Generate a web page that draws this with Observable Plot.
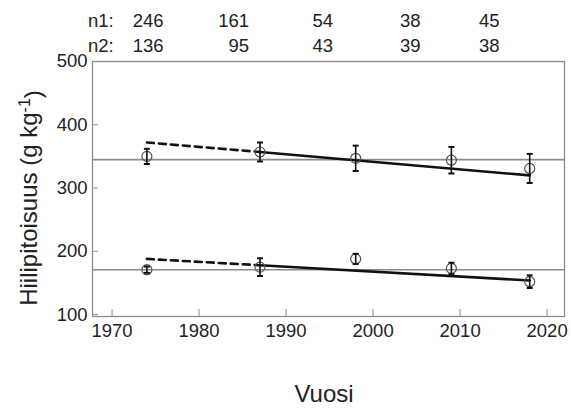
<!DOCTYPE html>
<html>
<head>
<meta charset="utf-8">
<script src="https://cdn.jsdelivr.net/npm/d3@7"></script>
<script src="https://cdn.jsdelivr.net/npm/@observablehq/plot@0.6"></script>
<style>
  html, body { margin: 0; padding: 0; background: #fff; }
  #wrap { position: relative; width: 571px; height: 412px; font-family: "Liberation Sans", Arial, sans-serif; color: #222; }
  .nrow { position: absolute; left: 0; font-size: 18.5px; line-height: 1; }
  .nrow span { position: absolute; text-align: right; white-space: nowrap; }
</style>
</head>
<body>
<div id="wrap"></div>
<script>
// ---- data ----
const years = [1974, 1987, 1998, 2009, 2018];
const upperMean = [350, 357, 347, 344, 331];
const upperErr = [12, 15, 20, 21, 23];
const lowerMean = [171, 175, 188, 173, 152];
const lowerErr = [5, 14, 8, 9, 10];
const upperLevel = 345;
const lowerLevel = 171;
const trendYears = [1974, 1987, 2018];
const upperTrend = [372, 357, 320];
const lowerTrend = [188, 178, 154];
const n1 = [246, 161, 54, 38, 45];
const n2 = [136, 95, 43, 39, 38];
const xTicks = [1970, 1980, 1990, 2000, 2010, 2020];
const yTicks = [100, 200, 300, 400, 500];

const points = [
  ...years.map((y, i) => ({year: y, mean: upperMean[i], lo: upperMean[i] - upperErr[i], hi: upperMean[i] + upperErr[i]})),
  ...years.map((y, i) => ({year: y, mean: lowerMean[i], lo: lowerMean[i] - lowerErr[i], hi: lowerMean[i] + lowerErr[i]}))
];
const trendRows = (vals) => trendYears.map((y, i) => ({year: y, v: vals[i]}));
const upperT = trendRows(upperTrend), lowerT = trendRows(lowerTrend);

const cap = { draw(ctx, size) { const w = Math.sqrt(size); ctx.moveTo(-w / 2, 0); ctx.lineTo(w / 2, 0); } };

const chart = Plot.plot({
  width: 571,
  height: 412,
  marginTop: 61,
  marginBottom: 96,
  marginLeft: 92,
  marginRight: 7,
  style: { fontFamily: "Liberation Sans, Arial, sans-serif", fontSize: "18.5px", color: "#222", background: "#fff", overflow: "visible" },
  x: { domain: [1967.75, 2022], ticks: xTicks, tickFormat: d => String(d) },
  y: { domain: [97, 500], ticks: yTicks },
  marks: [
    Plot.ruleY([upperLevel, lowerLevel], { stroke: "#8c8c8c", strokeWidth: 1.6 }),
    Plot.line(upperT.slice(0, 2), { x: "year", y: "v", stroke: "#111", strokeWidth: 2.6, strokeDasharray: "7,5" }),
    Plot.line(lowerT.slice(0, 2), { x: "year", y: "v", stroke: "#111", strokeWidth: 2.6, strokeDasharray: "7,5" }),
    Plot.line(upperT.slice(1), { x: "year", y: "v", stroke: "#111", strokeWidth: 2.6 }),
    Plot.line(lowerT.slice(1), { x: "year", y: "v", stroke: "#111", strokeWidth: 2.6 }),
    Plot.dot(points, { x: "year", y: "mean", r: 5, stroke: "#555", strokeWidth: 1.2, fill: "none" }),
    Plot.ruleX(points, { x: "year", y1: "lo", y2: "hi", stroke: "#111", strokeWidth: 1.6 }),
    Plot.dot(points, { x: "year", y: "lo", symbol: cap, r: 3.4, stroke: "#111", strokeWidth: 2 }),
    Plot.dot(points, { x: "year", y: "hi", symbol: cap, r: 3.4, stroke: "#111", strokeWidth: 2 }),
    Plot.frame({ stroke: "#8c8c8c", strokeWidth: 1.3 }),
    Plot.axisX({ ticks: xTicks, tickFormat: d => String(d), tickSize: -7, tickPadding: 14, stroke: "#8c8c8c", label: null, fill: "#222" }),
    Plot.axisY({ ticks: yTicks, tickSize: -6, tickPadding: 11, stroke: "#8c8c8c", label: null, fill: "#222" })
  ]
});

const wrap = document.getElementById("wrap");
wrap.appendChild(chart);

// axis titles
const svg = d3.select(chart);
const yl = svg.append("text")
  .attr("transform", "translate(37,198) rotate(-90)")
  .attr("text-anchor", "middle")
  .attr("fill", "#222")
  .style("font-size", "24px");
yl.append("tspan").text("Hiilipitoisuus (g kg");
yl.append("tspan").attr("dy", "-0.45em").style("font-size", "16px").text("-1");
yl.append("tspan").attr("dy", "0.45em").text(")");

svg.append("text")
  .attr("x", 324).attr("y", 402)
  .attr("text-anchor", "middle")
  .attr("fill", "#222")
  .style("font-size", "24px")
  .text("Vuosi");

// n header rows
const rightEdges = [163.5, 249, 333, 420.5, 499.5];
function row(label, vals, top) {
  const r = document.createElement("div");
  r.className = "nrow";
  r.style.top = top + "px";
  const l = document.createElement("span");
  l.textContent = label;
  l.style.left = "88px";
  r.appendChild(l);
  vals.forEach((v, i) => {
    const s = document.createElement("span");
    s.textContent = v;
    s.style.right = (571 - rightEdges[i]) + "px";
    s.style.left = "auto";
    r.appendChild(s);
  });
  r.style.width = "571px";
  wrap.appendChild(r);
}
row("n1:", n1, 12);
row("n2:", n2, 37);
</script>
</body>
</html>
